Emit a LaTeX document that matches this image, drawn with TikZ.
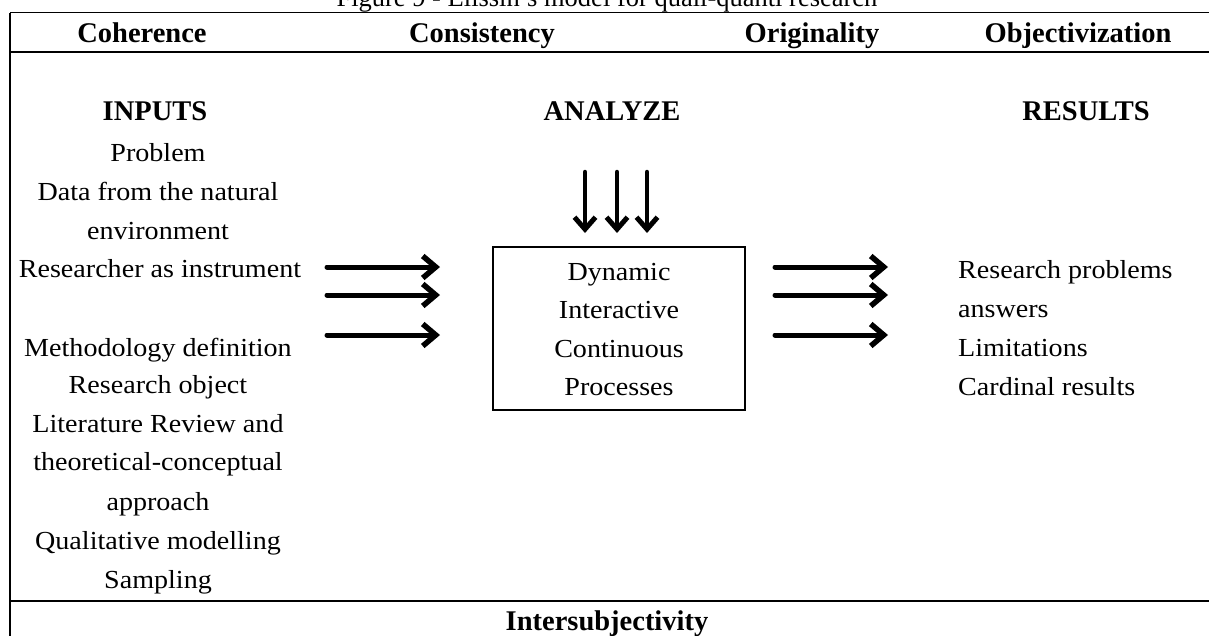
\documentclass[tikz,border=0pt]{standalone}
\usepackage{fontspec}
\setmainfont{Liberation Serif}
\newfontfamily\bodyfont{Liberation Serif}[FakeStretch=1.08]
\usetikzlibrary{arrows.meta}

\begin{document}
\begin{tikzpicture}[x=1pt,y=-1pt,
  body/.style={font=\bodyfont\fontsize{26}{30}\selectfont, inner sep=0pt, anchor=base},
  bodyleft/.style={body, anchor=base west},
  head/.style={font=\fontsize{28.5}{31}\selectfont\bfseries, inner sep=0pt, anchor=base},
  titletext/.style={font=\fontsize{26.5}{30}\selectfont, inner sep=0pt, anchor=base},
  frameline/.style={line width=2pt},
  bigarrow/.style={line width=5pt, line cap=round,
    -{Straight Barb[length=13pt,width=22pt,line width=5.5pt]}},
  downarrow/.style={line width=4.5pt, line cap=round,
    -{Straight Barb[length=12pt,width=21pt,line width=5pt]}},
  procbox/.style={draw, line width=2pt, minimum width=252pt, minimum height=163pt, inner sep=0pt},
]
\useasboundingbox (0,0) rectangle (1209,635);

% caption (partly above the page edge)
\node[titletext] (title) at (607,6.5) {Figure 9 - Elissin's model for quali-quanti research};

% table frame
\coordinate (ftl) at (10,12.5);
\coordinate (ftr) at (1215,12.5);
\coordinate (fhl) at (10,52);
\coordinate (fhr) at (1215,52);
\coordinate (fbl) at (10,601);
\coordinate (fbr) at (1215,601);
\coordinate (fend) at (10,645);
\draw[line width=1.5pt] (ftl) -- (ftr);
\draw[line width=2.5pt] (fhl) -- (fhr);
\draw[frameline] (fbl) -- (fbr);
\draw[frameline] (ftl) -- (fend);

% header row
\node[head] (coh) at (142,42) {Coherence};
\node[head] (con) at (482,42) {Consistency};
\node[head] (ori) at (812,42) {Originality};
\node[head] (obj) at (1078,42) {Objectivization};

% column titles
\node[head] (inputs) at (155,120) {INPUTS};
\node[head] (analyze) at (612,120) {ANALYZE};
\node[head] (results) at (1086,120) {RESULTS};

% inputs
\node[body] (i1) at (158,161) {Problem};
\node[body] (i2) at (158,200) {Data from the natural};
\node[body] (i3) at (158,239) {environment};
\node[body] (i4) at (160,277) {Researcher as instrument};
\node[body] (i5) at (158,356) {Methodology definition};
\node[body] (i6) at (158,393) {Research object};
\node[body] (i7) at (158,432) {Literature Review and};
\node[body] (i8) at (158,470) {theoretical-conceptual};
\node[body] (i9) at (158,510) {approach};
\node[body] (i10) at (158,549) {Qualitative modelling};
\node[body] (i11) at (158,588) {Sampling};

% analysis box
\node[procbox] (proc) at (619,328.5) {};
\node[body] (p1) at (619,280) {Dynamic};
\node[body] (p2) at (619,318.5) {Interactive};
\node[body] (p3) at (619,357) {Continuous};
\node[body] (p4) at (619,395.5) {Processes};

% results
\node[bodyleft] (r1) at (958,278) {Research problems};
\node[bodyleft] (r2) at (958,317) {answers};
\node[bodyleft] (r3) at (958,356) {Limitations};
\node[bodyleft] (r4) at (958,395) {Cardinal results};

% bottom row
\node[head] (inter) at (607,630) {Intersubjectivity};

% arrows into and out of the analysis
\foreach \n/\y in {1/267,2/295,3/335}{
  \coordinate (la\n s) at (327,\y);
  \coordinate (la\n e) at (440,\y);
  \draw[bigarrow] (la\n s) -- (la\n e);
  \coordinate (ra\n s) at (775,\y);
  \coordinate (ra\n e) at (888,\y);
  \draw[bigarrow] (ra\n s) -- (ra\n e);
}
\foreach \n/\x in {1/585,2/617,3/647}{
  \coordinate (da\n s) at (\x,172);
  \coordinate (da\n e) at (\x,233);
  \draw[downarrow] (da\n s) -- (da\n e);
}
\end{tikzpicture}
\end{document}
